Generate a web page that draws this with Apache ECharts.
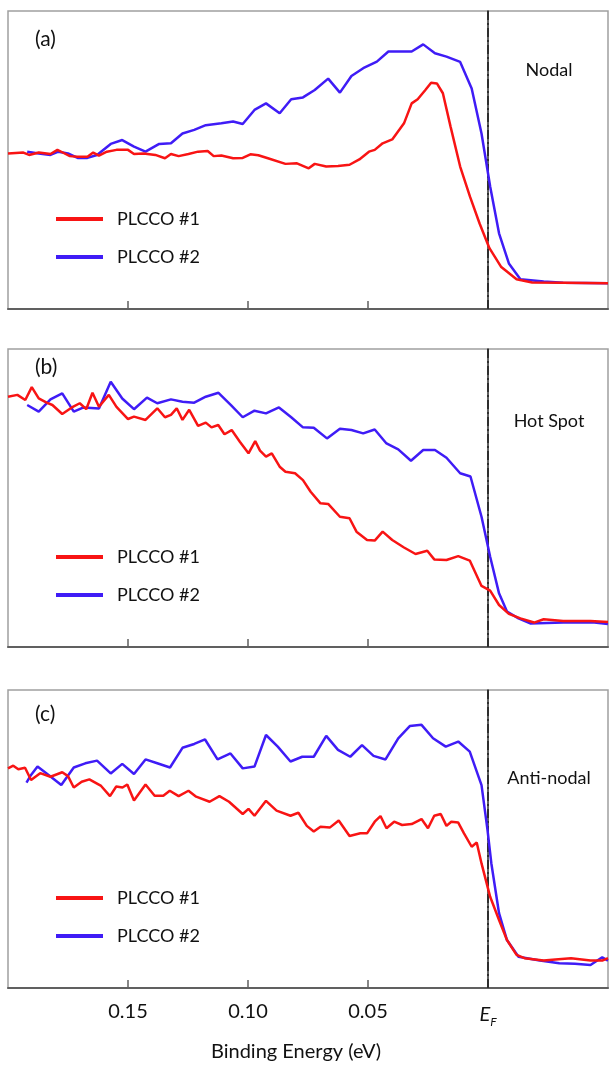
<!DOCTYPE html>
<html>
<head>
<meta charset="utf-8">
<script src="https://cdn.jsdelivr.net/npm/echarts@6/dist/echarts.min.js"></script>
<style>html,body{margin:0;padding:0;background:#fff;}#c{width:609px;height:1066px;}</style>
</head>
<body>
<div id="c"></div>
<script>
// Binding energy (eV), intensity (a.u., 0 = panel bottom, 100 = panel top)
const nodal1 = [[0.200,52.2],[0.1936,52.5],[0.1912,51.7],[0.1872,52.5],[0.1823,52.0],[0.1794,53.4],[0.1774,52.6],[0.1742,51.3],[0.1710,51.1],[0.1669,51.1],[0.1645,52.5],[0.1621,51.5],[0.1588,52.8],[0.1548,53.4],[0.1500,53.4],[0.1475,52.0],[0.1435,52.2],[0.1386,51.7],[0.1346,50.6],[0.1321,52.0],[0.1289,51.3],[0.1248,52.0],[0.1208,52.8],[0.1168,53.0],[0.1143,51.3],[0.1111,51.5],[0.1062,50.6],[0.1022,50.7],[0.0990,51.9],[0.0957,51.6],[0.0917,50.6],[0.0844,48.7],[0.0796,48.9],[0.0747,47.2],[0.0722,48.7],[0.0674,47.8],[0.0625,48.0],[0.0577,48.4],[0.0536,50.2],[0.0496,52.8],[0.0472,53.4],[0.0439,55.6],[0.0399,56.9],[0.0350,62.3],[0.0318,69.0],[0.0293,70.4],[0.0261,73.5],[0.0237,75.9],[0.0213,75.7],[0.0188,72.4],[0.0156,61.2],[0.0116,47.8],[0.0075,37.7],[0.0035,28.7],[-0.0006,20.4],[-0.0054,14.2],[-0.0119,10.0],[-0.0184,8.9],[-0.0313,8.8],[-0.0500,8.6]];
const nodal2 = [[0.1920,52.8],[0.1872,52.2],[0.1823,51.7],[0.1790,52.8],[0.1750,52.2],[0.1710,50.7],[0.1669,50.7],[0.1629,51.7],[0.1572,55.4],[0.1524,56.7],[0.1475,54.5],[0.1427,52.8],[0.1370,55.4],[0.1321,55.6],[0.1273,58.9],[0.1224,60.1],[0.1176,61.7],[0.1111,62.3],[0.1062,62.9],[0.1022,62.1],[0.0973,66.8],[0.0925,69.0],[0.0868,65.7],[0.0820,70.4],[0.0771,71.0],[0.0722,73.5],[0.0666,77.3],[0.0617,72.6],[0.0569,78.2],[0.0520,80.8],[0.0463,83.0],[0.0415,86.4],[0.0367,86.4],[0.0318,86.4],[0.0270,88.8],[0.0221,85.8],[0.0173,84.7],[0.0116,82.9],[0.0068,74.0],[0.0027,58.9],[-0.0009,41.1],[-0.0046,25.4],[-0.0087,15.3],[-0.0135,10.0],[-0.0232,9.2],[-0.0313,8.8],[-0.0500,8.6]];
const hotspot1 = [[0.200,84.0],[0.1961,84.6],[0.1928,82.9],[0.1901,87.2],[0.1872,83.4],[0.1839,82.0],[0.1815,81.2],[0.1774,78.2],[0.1734,80.4],[0.1701,81.8],[0.1674,79.8],[0.1648,85.3],[0.1621,80.6],[0.1580,84.6],[0.1548,80.6],[0.1500,76.5],[0.1475,77.3],[0.1427,76.2],[0.1378,80.1],[0.1346,77.1],[0.1321,77.9],[0.1297,80.1],[0.1273,76.2],[0.1245,79.6],[0.1208,74.2],[0.1176,75.3],[0.1152,73.7],[0.1124,74.5],[0.1098,71.4],[0.1068,72.8],[0.1034,68.9],[0.0998,65.0],[0.0970,69.1],[0.0950,65.9],[0.0925,63.9],[0.0901,65.0],[0.0868,60.5],[0.0844,58.8],[0.0804,58.3],[0.0771,56.0],[0.0739,52.1],[0.0698,48.2],[0.0666,48.0],[0.0617,43.7],[0.0577,43.2],[0.0548,38.7],[0.0504,35.9],[0.0472,35.7],[0.0439,38.7],[0.0399,35.9],[0.0350,33.4],[0.0302,31.2],[0.0253,32.3],[0.0224,29.4],[0.0173,29.2],[0.0124,30.5],[0.0076,29.0],[0.0027,20.5],[-0.0009,18.9],[-0.0046,14.1],[-0.0087,11.1],[-0.0135,9.6],[-0.0192,8.2],[-0.0232,9.3],[-0.0313,8.7],[-0.0427,8.7],[-0.0500,8.4]];
const hotspot2 = [[0.1920,81.2],[0.1872,79.0],[0.1823,83.1],[0.1774,85.1],[0.1726,79.0],[0.1685,80.4],[0.1621,80.0],[0.1572,89.0],[0.1524,83.4],[0.1475,79.8],[0.1421,83.7],[0.1378,81.8],[0.1321,83.1],[0.1273,82.3],[0.1224,82.0],[0.1176,84.0],[0.1123,85.3],[0.1071,81.2],[0.1022,77.1],[0.0973,79.3],[0.0925,78.4],[0.0871,80.4],[0.0820,77.1],[0.0771,73.7],[0.0726,73.6],[0.0671,70.0],[0.0617,73.2],[0.0569,72.8],[0.0520,71.7],[0.0472,73.0],[0.0423,68.3],[0.0374,66.3],[0.0321,62.5],[0.0270,66.1],[0.0221,66.1],[0.0173,63.5],[0.0116,58.3],[0.0073,57.2],[0.0027,43.7],[-0.0009,30.3],[-0.0046,18.0],[-0.0079,11.9],[-0.0127,9.6],[-0.0176,7.9],[-0.0313,8.2],[-0.0443,8.2],[-0.0500,7.7]];
const antinodal1 = [[0.200,73.7],[0.1978,74.6],[0.1957,73.4],[0.1929,73.9],[0.1904,69.8],[0.1866,72.1],[0.1823,70.9],[0.1774,72.4],[0.1750,71.1],[0.1726,67.3],[0.1693,69.2],[0.1661,70.0],[0.1612,67.8],[0.1575,64.4],[0.1549,67.6],[0.1523,67.3],[0.1503,68.3],[0.1475,62.9],[0.1427,68.3],[0.1389,64.5],[0.1353,64.5],[0.1326,66.2],[0.1289,64.4],[0.1248,66.2],[0.1216,64.2],[0.1160,62.5],[0.1119,64.4],[0.1079,62.5],[0.1022,58.4],[0.0998,60.1],[0.0973,57.8],[0.0925,62.8],[0.0881,59.5],[0.0823,57.8],[0.0790,58.8],[0.0755,54.4],[0.0726,52.5],[0.0698,54.1],[0.0658,53.9],[0.0622,56.2],[0.0577,51.0],[0.0532,51.9],[0.0504,51.9],[0.0472,55.8],[0.0448,57.7],[0.0423,53.6],[0.0391,55.8],[0.0358,54.7],[0.0318,55.0],[0.0277,56.7],[0.0250,53.6],[0.0224,57.8],[0.0197,58.4],[0.0173,54.4],[0.0153,55.8],[0.0124,55.5],[0.0100,51.9],[0.0068,47.4],[0.0047,48.8],[0.0027,41.8],[-0.0009,30.6],[-0.0046,22.8],[-0.0079,16.1],[-0.0119,11.1],[-0.0152,10.0],[-0.0232,9.2],[-0.0281,9.6],[-0.0346,10.0],[-0.0427,9.2],[-0.0476,9.2],[-0.0500,10.0]];
const antinodal2 = [[0.1923,68.9],[0.1904,71.5],[0.1877,74.3],[0.1831,71.5],[0.1778,68.1],[0.1726,74.0],[0.1678,75.4],[0.1629,76.3],[0.1572,72.0],[0.1524,75.2],[0.1475,71.8],[0.1427,76.7],[0.1378,75.4],[0.1325,74.0],[0.1273,80.6],[0.1224,81.9],[0.1179,83.4],[0.1127,76.7],[0.1073,78.7],[0.1022,73.7],[0.0973,74.3],[0.0925,84.9],[0.0876,81.0],[0.0823,76.0],[0.0774,77.6],[0.0726,77.6],[0.0674,84.6],[0.0625,79.9],[0.0574,77.6],[0.0525,81.5],[0.0477,77.9],[0.0427,76.7],[0.0374,83.8],[0.0326,87.9],[0.0277,88.3],[0.0229,83.8],[0.0176,81.0],[0.0124,82.7],[0.0076,79.3],[0.0027,68.1],[0.0002,53.0],[-0.0014,41.8],[-0.0046,25.1],[-0.0079,16.1],[-0.0127,10.5],[-0.0216,9.2],[-0.0297,8.3],[-0.0362,8.1],[-0.0427,7.7],[-0.0476,10.3],[-0.0500,9.2]];

const seriesNames = ['PLCCO #1', 'PLCCO #2'];
const panelLetters = ['(a)', '(b)', '(c)'];
const panelRegions = ['Nodal', 'Hot Spot', 'Anti-nodal'];
const tickValues = [0.15, 0.10, 0.05, 0];
const tickLabels = ['0.15', '0.10', '0.05', 'EF'];
const fermiEnergy = 0;
const xTitle = 'Binding Energy (eV)';

const panelData = [[nodal1, nodal2], [hotspot1, hotspot2], [antinodal1, antinodal2]];
const panelTops = [11, 349, 690];
const panelH = 298;
const Y_MIN = 0, Y_MAX = 100;
const RED = '#f81414', BLUE = '#3f1cf6';
const FONT = 'Lato';
const DASH_DOT = [9, 3, 2, 3];

function renderFermiLine(params, api) {
  const top = api.coord([api.value(0), Y_MAX]);
  const bottom = api.coord([api.value(0), Y_MIN]);
  const children = [];
  let y = top[1], k = 0;
  while (y < bottom[1]) {
    const len = DASH_DOT[k % DASH_DOT.length];
    if (k % 2 === 0) {
      children.push({type: 'line', shape: {x1: top[0], y1: y, x2: top[0], y2: Math.min(y + len, bottom[1])},
        style: {stroke: '#222', lineWidth: 1.6}});
    }
    y += len; k++;
  }
  return {type: 'group', children: children};
}

const grids = [], xAxes = [], yAxes = [], series = [], legends = [], graphics = [];
panelTops.forEach((top, i) => {
  const last = i === panelTops.length - 1;
  grids.push({left: 8, width: 600, top: top, height: panelH, show: true, borderColor: '#a0a0a0', borderWidth: 1.5});
  xAxes.push({
    type: 'value', gridIndex: i, inverse: true, min: -0.05, max: 0.2, interval: 0.05,
    axisLine: {show: true, lineStyle: {color: '#606060', width: 2}},
    axisTick: {show: true, inside: true, length: 8, customValues: tickValues, lineStyle: {color: '#606060', width: 1.5}},
    axisLabel: {show: last, customValues: tickValues, margin: 14, fontFamily: FONT, fontSize: 20, color: '#111',
      formatter: v => { const k = tickValues.findIndex(t => Math.abs(t - v) < 1e-9); const s = k >= 0 ? tickLabels[k] : ''; return s === 'EF' ? '{e|E}{f|F}' : s; },
      rich: {e: {fontFamily: FONT, fontStyle: 'italic', fontSize: 20, color: '#111'}, f: {fontFamily: FONT, fontStyle: 'italic', fontSize: 12, color: '#111', padding: [14, 0, 0, 0]}}},
    splitLine: {show: false}
  });
  yAxes.push({type: 'value', gridIndex: i, min: Y_MIN, max: Y_MAX,
    axisLine: {show: true, lineStyle: {color: '#606060', width: 2}}, axisTick: {show: false}, axisLabel: {show: false}, splitLine: {show: false}});
  const [d1, d2] = panelData[i];
  series.push({name: 'EF', type: 'custom', xAxisIndex: i, yAxisIndex: i, data: [[fermiEnergy, Y_MIN]],
    renderItem: renderFermiLine, silent: true, z: 2, clip: false});
  series.push({name: seriesNames[1], type: 'line', xAxisIndex: i, yAxisIndex: i, data: d2, showSymbol: false, symbol: 'none',
    lineStyle: {color: BLUE, width: 2.5}, itemStyle: {color: BLUE}, z: 3});
  series.push({name: seriesNames[0], type: 'line', xAxisIndex: i, yAxisIndex: i, data: d1, showSymbol: false, symbol: 'none',
    lineStyle: {color: RED, width: 2.5}, itemStyle: {color: RED}, z: 4});
  legends.push({show: true, orient: 'vertical', left: 56, top: top + 198, padding: 0, itemGap: 18, itemWidth: 47, itemHeight: 4, icon: 'rect',
    data: seriesNames, selectedMode: false, textStyle: {fontFamily: FONT, fontSize: 18, color: '#111', lineHeight: 20, padding: [0, 0, 0, 9]}});
  graphics.push({type: 'text', left: 35, top: top + [18, 8, 14][i], style: {text: panelLetters[i], font: '21px ' + FONT, fill: '#111'}});
  graphics.push({type: 'text', x: 549, y: top + [59, 72, 88][i], style: {text: panelRegions[i], font: '18px ' + FONT, fill: '#111', textAlign: 'center', textVerticalAlign: 'middle'}});
});
graphics.push({type: 'text', x: 296, y: 1052, style: {text: xTitle, font: '20px ' + FONT, fill: '#111', textAlign: 'center', textVerticalAlign: 'middle'}});

const chart = echarts.init(document.getElementById('c'), null, {renderer: 'canvas'});
chart.setOption({
  animation: false, backgroundColor: '#fff',
  grid: grids, xAxis: xAxes, yAxis: yAxes, legend: legends, series: series, graphic: graphics
});
</script>
</body>
</html>
